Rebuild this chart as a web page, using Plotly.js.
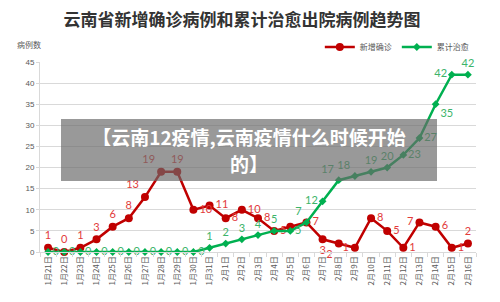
<!DOCTYPE html>
<html>
<head>
<meta charset="utf-8">
<script src="https://cdn.plot.ly/plotly-3.0.1.min.js"></script>
<style>
  html, body { margin: 0; padding: 0; background: #fff; }
  #wrap { position: relative; width: 500px; height: 302px; }
  #chart { width: 500px; height: 302px; }
  #overlay {
    position: absolute; left: 61px; top: 119px; width: 376px; height: 62px;
    background: rgba(105,105,105,0.68); color: #fff; text-align: center;
    font-family: "Noto Sans CJK SC", sans-serif; font-weight: 700; font-size: 19px;
    line-height: 27px; padding-top: 4px; box-sizing: border-box; z-index: 10;
  }
</style>
</head>
<body>
<div id="wrap">
  <div id="chart"></div>
  <div id="overlay">【云南12疫情,云南疫情什么时候开始<br>的】</div>
</div>
<script>
const dates = ["1月21日","1月22日","1月23日","1月24日","1月25日","1月26日","1月27日","1月28日","1月29日","1月30日","1月31日",
  "2月1日","2月2日","2月3日","2月4日","2月5日","2月6日","2月7日","2月8日","2月9日","2月10日","2月11日","2月12日","2月13日","2月14日","2月15日","2月16日"];
const newConfirmed = [1,0,1,3,6,8,13,19,19,10,11,8,10,8,5,6,7,3,2,1,8,5,1,7,6,1,2];
const totalCured   = [0,0,0,0,0,0,0,0,0,0,1,2,3,4,5,5,7,12,17,18,19,20,23,27,35,42,42];
const yTicks = [0,5,10,15,20,25,30,35,40,45];

const redHidden = [15];
const redText = newConfirmed.map((v,i) => redHidden.includes(i) ? "" : String(v));
const greenText = totalCured.map(String);

const redPos = ["top center","top center","top center","top center","top center","top center","top left","top left","top center",
  "middle right","middle right","middle right","middle right","middle right","middle right","middle right","middle right",
  "bottom center","bottom left","middle left","middle right","middle right","middle right","middle left","middle right","middle right","top center"];
const greenPos = ["middle right","middle right","middle right","middle right","middle right","middle right","middle right","middle right","middle right","middle right",
  "top center","top center","top center","top center","top center","middle right","top left","middle left","top left","top left",
  "top center","top center","middle right","middle right","bottom right","middle left","top center"];

const traces = [
  {
    x: dates, y: newConfirmed, name: "新增确诊", type: "scatter", mode: "lines+markers+text",
    line: {color: "#c00000", width: 2.5},
    marker: {color: "#c00000", size: 8, symbol: "circle"},
    text: redText, textposition: redPos,
    textfont: {family: "Lato, 'Liberation Sans', sans-serif", size: 11, color: "#e23b3b"},
    cliponaxis: false
  },
  {
    x: dates, y: totalCured, name: "累计治愈", type: "scatter", mode: "lines+markers+text",
    line: {color: "#00b050", width: 2.5},
    marker: {color: "#00b050", size: 6, symbol: "diamond"},
    text: greenText, textposition: greenPos,
    textfont: {family: "Lato, 'Liberation Sans', sans-serif", size: 11, color: "#3cb46a"},
    cliponaxis: false
  }
];

const layout = {
  width: 500, height: 302,
  margin: {l: 40, r: 24, t: 62, b: 50},
  paper_bgcolor: "#ffffff", plot_bgcolor: "#ffffff",
  title: {
    text: "云南省新增确诊病例和累计治愈出院病例趋势图",
    font: {family: "'Noto Sans CJK SC', sans-serif", size: 17, color: "#333333", weight: 700},
    x: 0.484, xanchor: "center", y: 0.935, yanchor: "middle"
  },
  showlegend: true,
  legend: {
    orientation: "h", x: 0.995, xanchor: "right", y: 1.079, yanchor: "middle",
    font: {family: "'Noto Sans CJK SC', sans-serif", size: 8, color: "#595959"},
    itemwidth: 30, bgcolor: "rgba(0,0,0,0)", traceorder: "normal"
  },
  xaxis: {
    type: "category", range: [-0.5, dates.length - 0.5],
    tickangle: -90, tickson: "boundaries", ticks: "outside", ticklen: 4, tickcolor: "#d9d9d9",
    showgrid: false, showline: true, linecolor: "#d9d9d9", linewidth: 1, zeroline: false,
    tickfont: {family: "'Noto Sans CJK SC', sans-serif", size: 8, color: "#595959"},
    fixedrange: true
  },
  yaxis: {
    range: [0, 45], tickvals: yTicks, ticktext: yTicks.map(String),
    showgrid: true, gridcolor: "#d9d9d9", gridwidth: 1,
    showline: true, linecolor: "#d9d9d9", zeroline: false,
    ticks: "outside", ticklen: 3, tickcolor: "#d9d9d9",
    tickfont: {family: "'Liberation Sans', sans-serif", size: 8, color: "#595959"},
    fixedrange: true
  },
  annotations: [
    {text: "病例数", xref: "paper", yref: "paper", x: -0.058, y: 1.09, xanchor: "left", yanchor: "middle",
     showarrow: false, font: {family: "'Noto Sans CJK SC', sans-serif", size: 8, color: "#595959"}}
  ]
};

Plotly.newPlot("chart", traces, layout, {displayModeBar: false, staticPlot: true});
</script>
</body>
</html>
